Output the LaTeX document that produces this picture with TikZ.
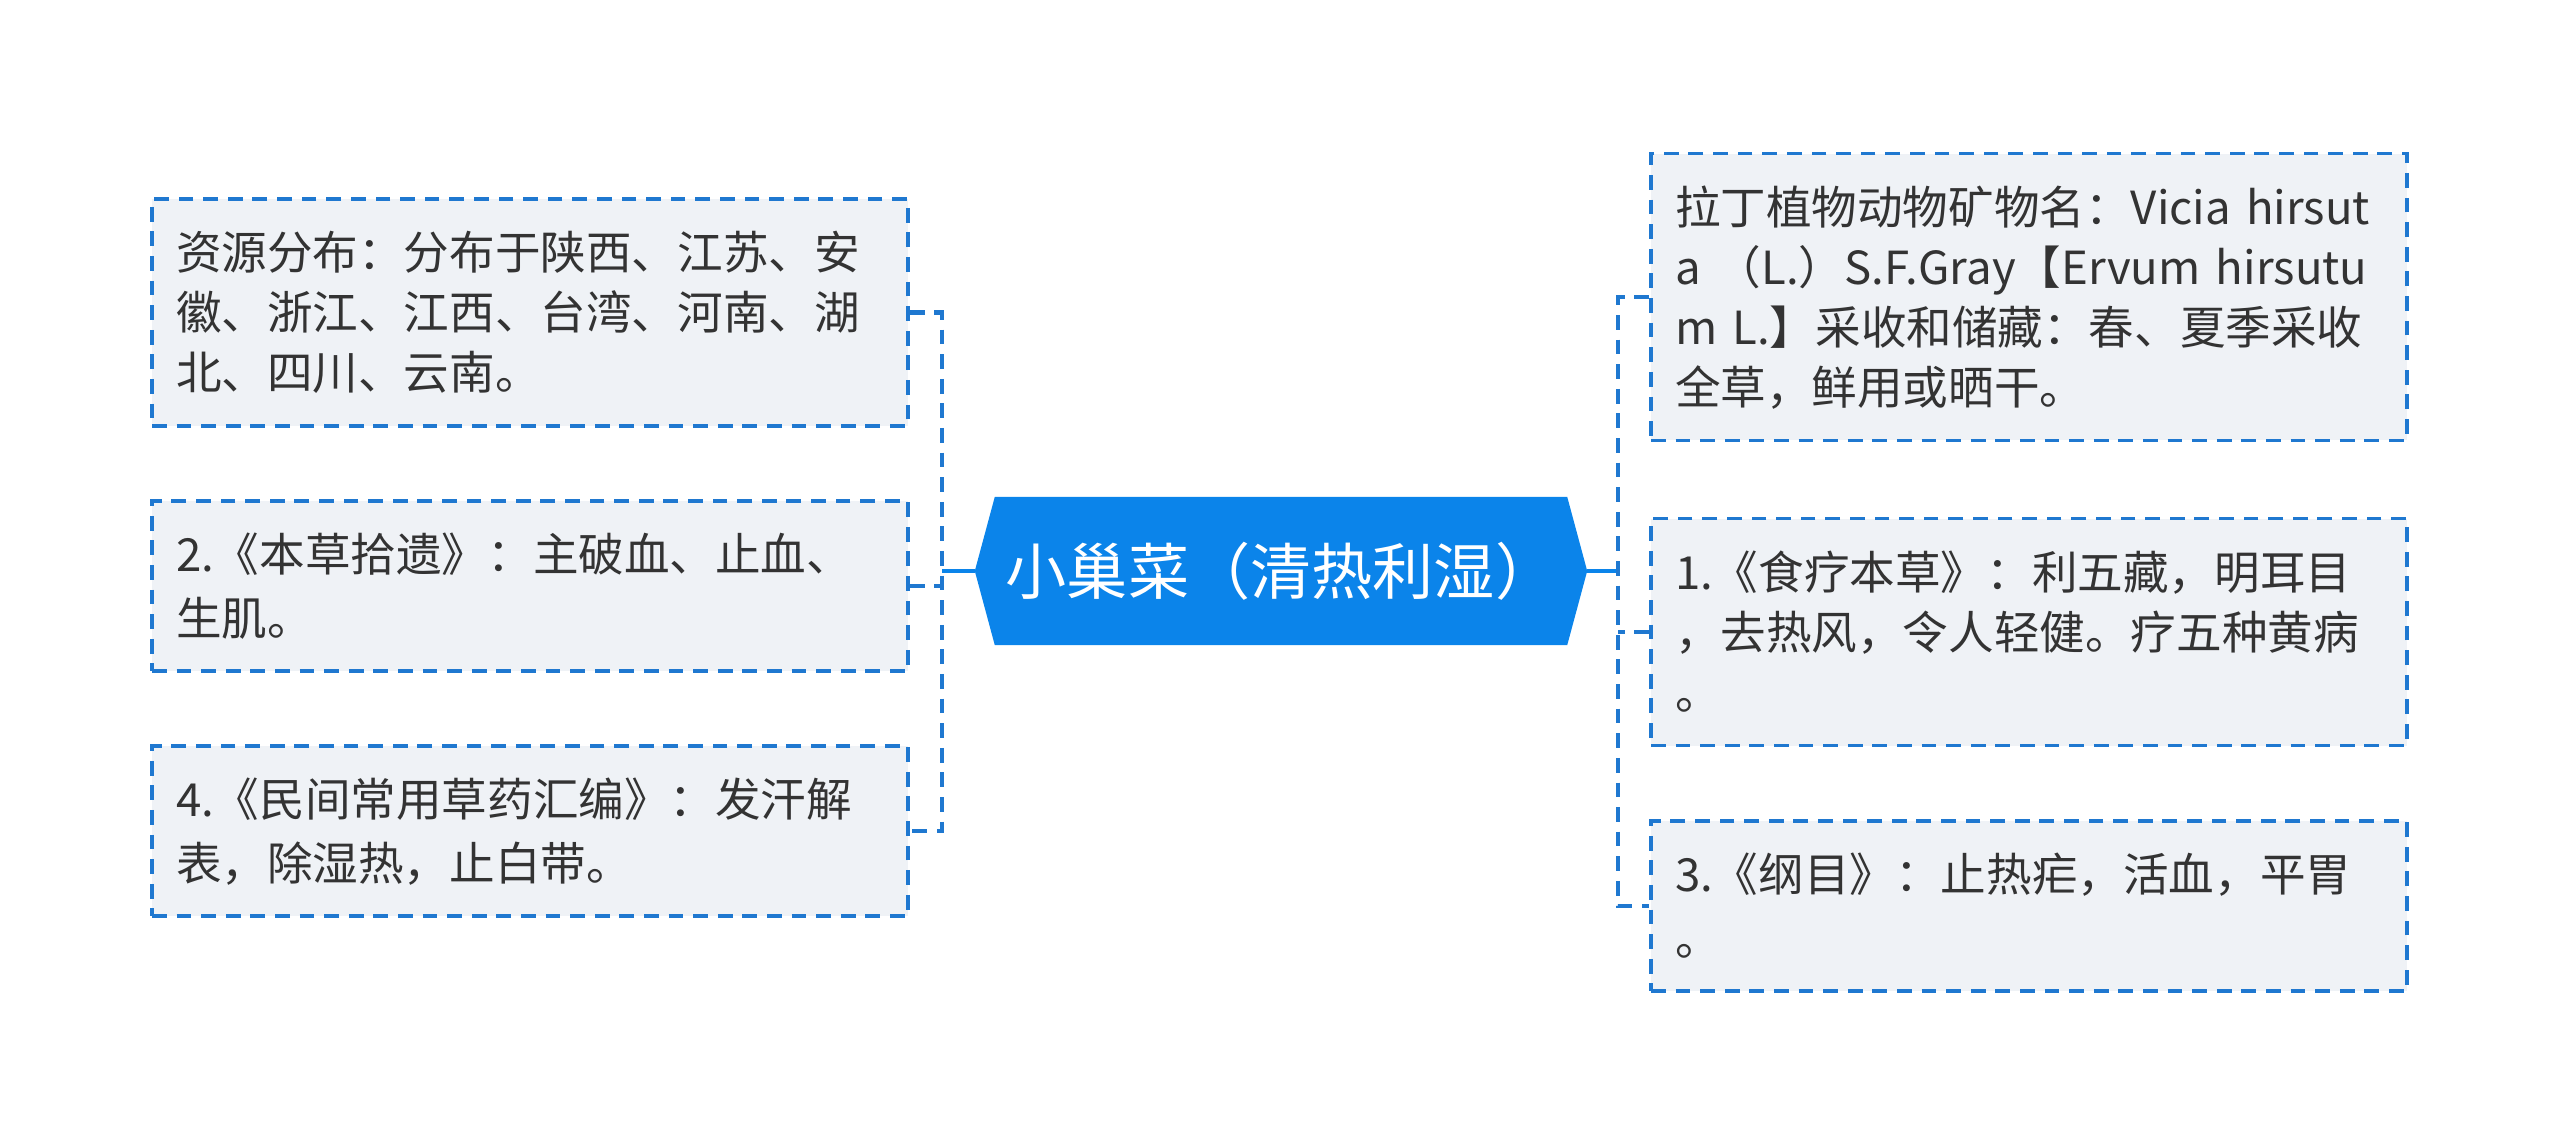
\documentclass[tikz,border=0pt]{standalone}
\usepackage{fontspec}
\setmainfont{Noto Sans CJK SC}
\usepackage{xcolor}
\usetikzlibrary{calc,backgrounds}

\definecolor{rootblue}{HTML}{0B84EA}
\definecolor{linkblue}{HTML}{1F78D0}
\definecolor{boxfill}{HTML}{EFF2F6}
\definecolor{textgray}{HTML}{333333}
\newcommand\boxstrut{\rule[-0.127cm]{0pt}{0.6cm}}

\begin{document}
\begin{tikzpicture}[
  every node/.style={font=\fontsize{12.97pt}{17.07pt}\selectfont},
  leafbox/.style={rectangle, draw=linkblue, fill=boxfill, line width=1.05pt,
    dash pattern=on 4.2pt off 2.8pt, text width=7.08cm, align=left,
    inner xsep=0.24cm, inner ysep=0.235cm, text=textgray,
    execute at begin node=\boxstrut, execute at end node=\boxstrut},
  rootbox/.style={rectangle, minimum width=5.71cm, minimum height=1.47cm,
    inner sep=0pt, text=white, font=\fontsize{17.4pt}{21pt}\selectfont},
  link/.style={draw=linkblue, line width=1.3pt, dash pattern=on 4.2pt off 2.8pt},
  trunk/.style={draw=rootblue, line width=1.3pt},
]
\useasboundingbox (0,0) rectangle (25.6,-11.43);

% Central topic
\node[rootbox] (root) at (12.81,-5.71) {小巢菜（清热利湿）};
\coordinate (root-l) at ($(root.west)+(-0.2,0)$);
\coordinate (root-r) at ($(root.east)+(0.2,0)$);
\begin{scope}[on background layer]
  \fill[rootblue] (root.north west) -- (root.north east) -- (root-r)
    -- (root.south east) -- (root.south west) -- (root-l) -- cycle;
\end{scope}

% Left boxes
\node[leafbox] (dist) at (5.30,-3.125) {资源分布：分布于陕西、江苏、安\\徽、浙江、江西、台湾、河南、湖\\北、四川、云南。};
\node[leafbox] (shiyi) at (5.30,-5.86) {2.《本草拾遗》：主破血、止血、\\生肌。};
\node[leafbox] (huibian) at (5.30,-8.31) {4.《民间常用草药汇编》：发汗解\\表，除湿热，止白带。};

% Right boxes
\node[leafbox] (latin) at (20.29,-2.97) {拉丁植物动物矿物名：Vicia hirsut\\a （L.）S.F.Gray【Ervum hirsutu\\m L.】采收和储藏：春、夏季采收\\全草，鲜用或晒干。};
\node[leafbox] (shiliao) at (20.29,-6.32) {1.《食疗本草》：利五藏，明耳目\\，去热风，令人轻健。疗五种黄病\\。};
\node[leafbox] (gangmu) at (20.29,-9.06) {3.《纲目》：止热疟，活血，平胃\\。};

% Connectors
\coordinate (ljoin) at (9.42,-5.71);
\coordinate (rjoin) at (16.18,-5.71);
\draw[trunk] (root-l) -- (ljoin);
\draw[trunk] (root-r) -- (rjoin);
\draw[link] (dist.east) -| (ljoin) |- (huibian.east);
\draw[link] (shiyi.east) -- (shiyi.east -| ljoin);
\draw[link] (latin.west) -| (rjoin) |- (gangmu.west);
\draw[link] (shiliao.west) -- (shiliao.west -| rjoin);

\end{tikzpicture}
\end{document}
